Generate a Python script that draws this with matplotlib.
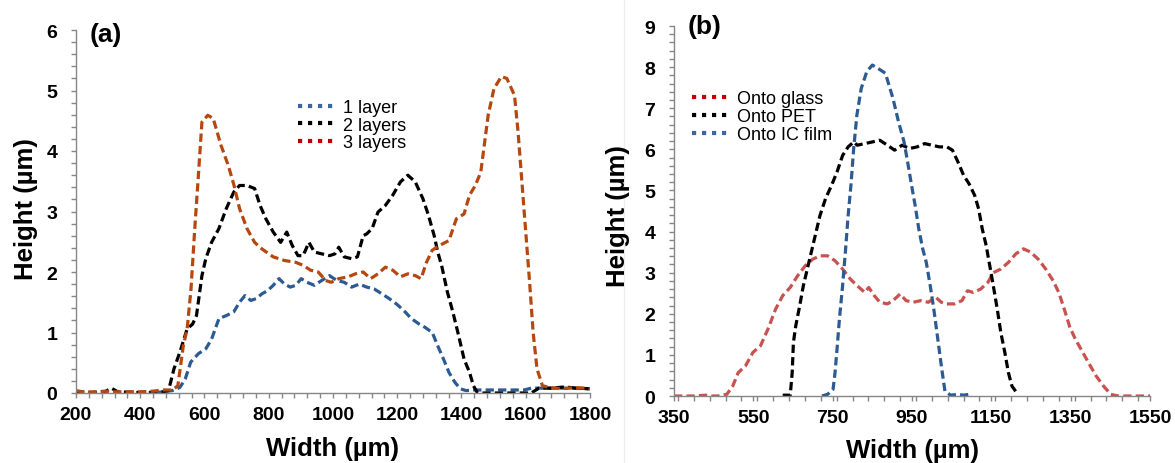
import matplotlib
matplotlib.use("Agg")
import matplotlib.pyplot as plt
from matplotlib.lines import Line2D
from matplotlib.ticker import MultipleLocator

plt.rcParams['font.family'] = ['Liberation Sans', 'DejaVu Sans']
plt.rcParams['font.weight'] = 'bold'

# ---------------- Panel (a) data ----------------
x_1layer = [440, 470, 500, 523, 540, 557, 581, 604, 622, 645, 668, 691, 709, 726, 744, 761,
            779, 796, 814, 832, 849, 867, 884, 901, 919, 942, 965, 989, 1012, 1035, 1058,
            1082, 1105, 1128, 1152, 1175, 1198, 1221, 1244, 1268, 1285, 1309, 1326, 1344,
            1361, 1379, 1396, 1414, 1440, 1466, 1530, 1595, 1617, 1660, 1720, 1800]
y_1layer = [0.0, 0.02, 0.04, 0.09, 0.23, 0.51, 0.65, 0.73, 0.89, 1.23, 1.28, 1.34, 1.50, 1.61,
            1.53, 1.56, 1.64, 1.69, 1.78, 1.89, 1.80, 1.75, 1.78, 1.89, 1.83, 1.78, 1.86,
            1.94, 1.86, 1.83, 1.75, 1.80, 1.75, 1.72, 1.64, 1.56, 1.47, 1.36, 1.23, 1.14,
            1.09, 1.00, 0.78, 0.56, 0.34, 0.18, 0.07, 0.04, 0.05, 0.05, 0.05, 0.05, 0.08,
            0.08, 0.08, 0.07]

x_2layers = [200, 250, 290, 310, 330, 380, 440, 470, 488, 505, 523, 546, 563, 575, 592, 604,
             622, 645, 668, 691, 709, 732, 756, 773, 791, 814, 837, 856, 873, 891, 907, 925,
             942, 965, 989, 1006, 1018, 1035, 1058, 1076, 1094, 1105, 1122, 1140, 1163,
             1186, 1210, 1233, 1256, 1280, 1297, 1315, 1326, 1338, 1356, 1373, 1391, 1408,
             1425, 1437, 1449, 1466, 1540, 1617, 1641, 1680, 1720, 1760, 1800]
y_2layers = [0.02, 0.01, 0.02, 0.08, 0.02, 0.01, 0.01, 0.02, 0.04, 0.40, 0.67, 1.06, 1.14,
             1.28, 1.94, 2.22, 2.49, 2.72, 3.05, 3.32, 3.43, 3.43, 3.38, 3.10, 2.88, 2.66,
             2.49, 2.66, 2.44, 2.27, 2.27, 2.49, 2.33, 2.30, 2.27, 2.30, 2.41, 2.25, 2.22,
             2.25, 2.60, 2.63, 2.72, 2.99, 3.10, 3.27, 3.49, 3.60, 3.49, 3.21, 2.94, 2.60,
             2.33, 2.11, 1.67, 1.34, 0.95, 0.56, 0.34, 0.12, 0.01, 0.0, 0.0, 0.0, 0.08, 0.08,
             0.10, 0.08, 0.07]

x_3layers = [200, 230, 260, 290, 320, 360, 400, 440, 470, 500, 517, 534, 546, 558, 569, 581,
             592, 610, 627, 651, 674, 692, 709, 732, 756, 779, 814, 849, 884, 907, 930, 954,
             977, 994, 1018, 1047, 1070, 1094, 1117, 1140, 1163, 1186, 1210, 1233, 1256,
             1274, 1291, 1309, 1332, 1361, 1384, 1408, 1425, 1443, 1460, 1471, 1483, 1501,
             1524, 1541, 1565, 1576, 1588, 1600, 1612, 1623, 1635, 1652, 1676, 1711, 1757,
             1800]
y_3layers = [0.04, 0.01, 0.02, 0.03, 0.02, 0.02, 0.02, 0.03, 0.05, 0.05, 0.12, 0.78, 1.06,
             1.72, 2.66, 3.60, 4.48, 4.59, 4.54, 4.10, 3.76, 3.43, 3.05, 2.72, 2.49, 2.38,
             2.25, 2.19, 2.16, 2.11, 2.03, 2.00, 1.86, 1.83, 1.89, 1.92, 1.97, 2.00, 1.89,
             1.97, 2.08, 2.03, 1.92, 1.97, 1.94, 1.89, 2.16, 2.36, 2.44, 2.52, 2.88, 2.96,
             3.27, 3.43, 3.65, 4.10, 4.59, 5.03, 5.23, 5.20, 4.92, 4.32, 3.49, 2.66, 1.83,
             1.00, 0.40, 0.12, 0.09, 0.07, 0.09, 0.07]

# ---------------- Panel (b) data ----------------
x_glass = [350, 400, 430, 445, 460, 483, 498, 512, 530, 549, 568, 587, 606, 624, 643, 662,
           681, 700, 718, 737, 756, 775, 794, 812, 831, 841, 855, 869, 888, 902, 920, 935,
           953, 972, 991, 1010, 1024, 1038, 1057, 1076, 1090, 1104, 1123, 1141, 1155, 1174,
           1193, 1212, 1231, 1249, 1268, 1287, 1306, 1320, 1334, 1348, 1362, 1376, 1395,
           1414, 1433, 1451, 1470, 1510, 1550]
y_glass = [0.0, 0.0, 0.02, 0.0, 0.0, 0.04, 0.24, 0.57, 0.73, 1.06, 1.22, 1.63, 2.11, 2.44,
           2.64, 2.93, 3.17, 3.33, 3.41, 3.41, 3.29, 3.09, 2.85, 2.68, 2.52, 2.64, 2.44,
           2.28, 2.24, 2.32, 2.48, 2.32, 2.28, 2.32, 2.28, 2.40, 2.28, 2.24, 2.24, 2.32,
           2.56, 2.52, 2.60, 2.76, 3.00, 3.09, 3.25, 3.46, 3.58, 3.50, 3.33, 3.09, 2.80,
           2.52, 2.11, 1.67, 1.38, 1.14, 0.81, 0.49, 0.24, 0.04, 0.0, 0.0, 0.0]

x_pet = [624, 643, 648, 651, 657, 667, 676, 690, 704, 718, 732, 747, 761, 775, 789, 803,
         812, 831, 850, 869, 888, 906, 925, 944, 963, 982, 1000, 1019, 1038, 1052, 1066,
         1080, 1094, 1108, 1118, 1127, 1137, 1146, 1155, 1165, 1174, 1184, 1193, 1202, 1217]
y_pet = [0.02, 0.02, 0.57, 1.30, 1.71, 2.20, 2.68, 3.25, 3.82, 4.39, 4.80, 5.12, 5.45, 5.85,
         6.06, 6.18, 6.10, 6.14, 6.18, 6.22, 6.10, 5.98, 6.10, 6.02, 6.06, 6.14, 6.10, 6.06,
         6.06, 5.98, 5.69, 5.37, 5.16, 4.88, 4.55, 4.07, 3.66, 3.17, 2.68, 2.11, 1.54, 1.06,
         0.57, 0.24, 0.04]

x_icfilm = [723, 737, 751, 756, 761, 767, 775, 782, 789, 796, 803, 811, 822, 836, 850, 864,
            883, 892, 902, 916, 930, 939, 949, 958, 967, 977, 986, 996, 1005, 1014, 1024,
            1033, 1047, 1066, 1080, 1094]
y_icfilm = [0.0, 0.04, 0.16, 0.57, 1.14, 1.87, 2.68, 3.50, 4.39, 5.12, 6.02, 6.83, 7.48,
            7.89, 8.05, 7.97, 7.85, 7.56, 7.24, 6.67, 6.18, 5.69, 5.12, 4.63, 4.07, 3.58,
            3.25, 2.68, 2.11, 1.46, 0.73, 0.12, 0.02, 0.04, 0.02, 0.04]

labels_a = ["1 layer", "2 layers", "3 layers"]
labels_b = ["Onto glass", "Onto PET", "Onto IC film"]
xticks_b = [350, 550, 750, 950, 1150, 1350, 1550]

C_BLUE = '#2C5A93'
C_BLACK = '#000000'
C_BROWN = '#B5470F'
C_GLASS = '#C9514F'
C_LEG_RED = '#C00000'
C_LEG_BLUE = '#3A66A3'
AX_GRAY = '#868686'

fig = plt.figure(figsize=(11.75, 4.64), dpi=100)
ax1 = fig.add_axes([76/1175, 1-394/464, (590-76)/1175, (394-31)/464])
ax2 = fig.add_axes([674/1175, 1-397/464, (1150-674)/1175, (397-27)/464])

# faint chart-area border of panel (b)
fig.add_artist(Line2D([624/1175, 624/1175], [0.0, 1.0], transform=fig.transFigure,
                      color='#ededed', lw=1, zorder=0))

dash = (2.6, 1.3)
lw = 2.3

def draw(ax, x, y, c):
    ax.plot(x, y, color=c, lw=lw, linestyle=(0, dash), dash_capstyle='butt')

draw(ax1, x_1layer, y_1layer, C_BLUE)
draw(ax1, x_2layers, y_2layers, C_BLACK)
draw(ax1, x_3layers, y_3layers, C_BROWN)

draw(ax2, x_glass, y_glass, C_GLASS)
draw(ax2, x_pet, y_pet, C_BLACK)
draw(ax2, x_icfilm, y_icfilm, C_BLUE)

def style(ax, xlim, ylim, xmaj, xmin):
    ax.set_xlim(*xlim)
    ax.set_ylim(*ylim)
    ax.xaxis.set_major_locator(MultipleLocator(xmaj))
    ax.xaxis.set_minor_locator(MultipleLocator(xmin))
    ax.yaxis.set_major_locator(MultipleLocator(1))
    ax.yaxis.set_minor_locator(MultipleLocator(0.2))
    for s in ['top', 'right']:
        ax.spines[s].set_visible(False)
    for s in ['left', 'bottom']:
        ax.spines[s].set_color(AX_GRAY)
        ax.spines[s].set_linewidth(1.0)
    ax.tick_params(which='both', direction='out', color=AX_GRAY, length=3.5, width=1.0)
    ax.tick_params(which='major', labelsize=14)
    ax.tick_params(axis='x', which='major', pad=6)
    ax.tick_params(axis='y', which='major', pad=10)
    ax.set_xlabel('Width (µm)', fontsize=18.5, fontweight='bold')
    ax.set_ylabel('Height (µm)', fontsize=18.5, fontweight='bold')

style(ax1, (200, 1800), (0, 6), 200, 40)
style(ax2, (350, 1550), (0, 9), 200, 40)
ax2.set_xticks(xticks_b)
for ax in (ax1, ax2):
    for lab in ax.get_xticklabels() + ax.get_yticklabels():
        lab.set_fontweight('bold')

ax1.xaxis.set_label_coords(0.5, -0.118)
ax1.yaxis.set_label_coords(-0.074, 0.51)
ax2.xaxis.set_label_coords(0.5, -0.113)
ax2.yaxis.set_label_coords(-0.093, 0.49)

ax1.text(0.027, 0.99, '(a)', transform=ax1.transAxes, fontsize=19, fontweight='bold',
         ha='left', va='center')
ax2.text(0.029, 1.0, '(b)', transform=ax2.transAxes, fontsize=19, fontweight='bold',
         ha='left', va='center')

def leg_handle(c):
    return Line2D([], [], color=c, lw=3.0, linestyle=(0, (1, 1.4)), dash_capstyle='butt')

leg_kw = dict(loc='upper left', frameon=False, fontsize=13, handlelength=1.95,
              handletextpad=0.55, labelspacing=0.04, borderpad=0, borderaxespad=0)
leg_a = ax1.legend([leg_handle(C_LEG_BLUE), leg_handle(C_BLACK), leg_handle(C_LEG_RED)],
                   labels_a, bbox_to_anchor=(0.432, 0.81), **leg_kw)
leg_b = ax2.legend([leg_handle(C_LEG_RED), leg_handle(C_BLACK), leg_handle(C_LEG_BLUE)],
                   labels_b, bbox_to_anchor=(0.038, 0.826), **leg_kw)
for leg in (leg_a, leg_b):
    for t in leg.get_texts():
        t.set_fontweight('normal')

fig.savefig('out.png', dpi=100)
